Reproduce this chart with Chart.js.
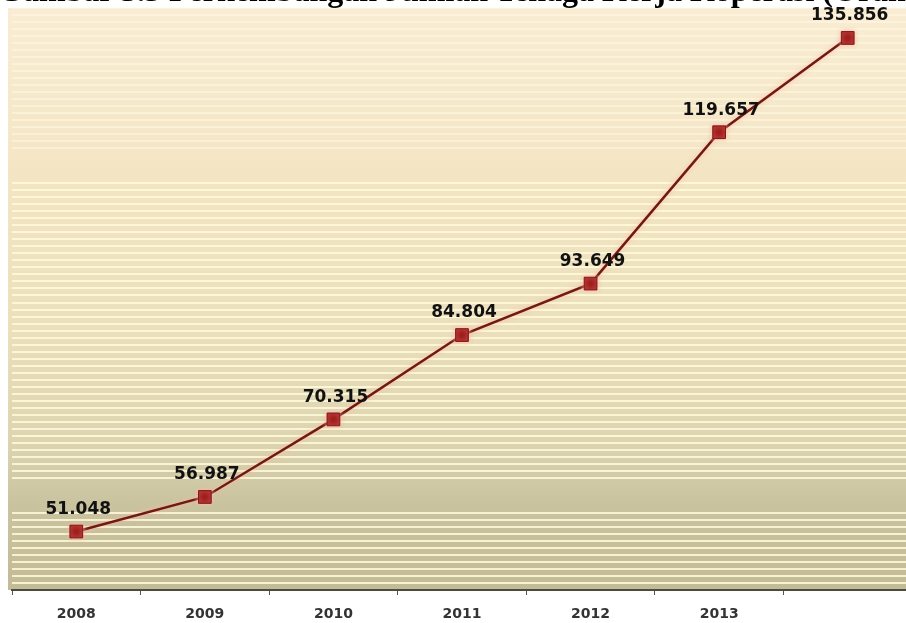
<!DOCTYPE html>
<html>
<head>
<meta charset="utf-8">
<script src="https://cdn.jsdelivr.net/npm/chart.js@4.4.1/dist/chart.umd.min.js"></script>
<style>
  html, body { margin: 0; padding: 0; background: #fff; overflow: hidden; }
  #wrap { position: relative; width: 906px; height: 623px; overflow: hidden; }
  #judul {
    position: absolute; left: -2px; top: -28px; white-space: nowrap;
    font: bold 32px 'Liberation Serif', 'DejaVu Serif', serif; color: #000;
  }
  canvas { position: absolute; left: 0; top: 0; }
</style>
</head>
<body>
<div id="wrap">
  <!-- the plot runs a few pixels past the right edge -->
  <canvas id="myChart" width="912" height="623"></canvas>
  <div id="judul">Gambar 3.5 Perkembangan Jumlah Tenaga Kerja Koperasi (Orang)</div>
</div>
<script>
const tahun = ['2008', '2009', '2010', '2011', '2012', '2013', ''];
const tenagaKerja = [51048, 56987, 70315, 84804, 93649, 119657, 135856];
const yMin = 41000;
const yMax = 141000;
const stripeStep = 1200;

const fmt = v => v.toLocaleString('de-DE');

// gradient background behind the plot
const latar = {
    id: 'latar',
    beforeDraw(chart) {
        const { ctx, chartArea: a } = chart;
        const g = ctx.createLinearGradient(0, a.top, 0, a.bottom);
        g.addColorStop(0, '#f9ecd2');
        g.addColorStop(0.3, '#f3e5c3');
        g.addColorStop(0.55, '#ebdfbc');
        g.addColorStop(0.75, '#dcd4b0');
        g.addColorStop(0.85, '#cac3a0');
        g.addColorStop(1, '#c3bb96');
        ctx.save();
        ctx.fillStyle = g;
        ctx.fillRect(a.left - 4, a.top, a.right - a.left + 4, a.bottom - a.top);
        ctx.restore();
    }
};

// soft glow under the line
const glow = {
    id: 'glow',
    beforeDatasetDraw(chart) {
        const ctx = chart.ctx;
        ctx.save();
        ctx.shadowColor = 'rgba(255, 185, 170, 0.95)';
        ctx.shadowBlur = 5;
    },
    afterDatasetDraw(chart) {
        chart.ctx.restore();
    }
};

// value labels above each point
const labelNilai = {
    id: 'labelNilai',
    afterDatasetsDraw(chart) {
        const ctx = chart.ctx;
        const meta = chart.getDatasetMeta(0);
        ctx.save();
        ctx.font = 'bold 17px "DejaVu Sans", Verdana, sans-serif';
        ctx.fillStyle = '#111';
        ctx.textAlign = 'center';
        ctx.textBaseline = 'middle';
        meta.data.forEach((pt, i) => {
            ctx.fillText(fmt(tenagaKerja[i]), pt.x + 2, pt.y - 22);
        });
        ctx.restore();
    }
};

new Chart(document.getElementById('myChart'), {
    type: 'line',
    data: {
        labels: tahun,
        datasets: [{
            data: tenagaKerja,
            borderColor: '#701a12',
            borderWidth: 2.5,
            tension: 0,
            clip: false,
            pointStyle: 'rect',
            pointRadius: 9,
            pointBackgroundColor: '#9e1a1a',
            pointBorderColor: '#861515',
            pointBorderWidth: 1
        }]
    },
    options: {
        responsive: false,
        animation: false,
        layout: { autoPadding: false, padding: { left: 12, top: 8, right: 0, bottom: 0 } },
        scales: {
            x: {
                offset: true,
                afterFit: s => {
                    s.height = 33;
                    s.paddingLeft = 0;
                    s.paddingRight = 0;
                },
                grid: {
                    offset: true,
                    drawOnChartArea: false,
                    drawTicks: true,
                    tickLength: 5,
                    color: '#555',
                    lineWidth: 1
                },
                border: { display: true, color: '#4d4b40', width: 2 },
                ticks: {
                    padding: 11,
                    color: '#333',
                    font: { family: '"DejaVu Sans", Verdana, sans-serif', size: 14, weight: 'bold' }
                }
            },
            y: {
                min: yMin,
                max: yMax,
                border: { display: false },
                grid: {
                    drawTicks: false,
                    lineWidth: 2,
                    color: c => {
                        const v = c.tick.value;
                        if (v >= 55200 && v <= 59800) return 'rgba(0,0,0,0)';
                        if (v >= 111000 && v <= 116500) return 'rgba(0,0,0,0)';
                        if (v > 116500) return 'rgba(255, 252, 235, 0.45)';
                        return 'rgba(255, 250, 220, 0.85)';
                    }
                },
                ticks: { display: false, stepSize: stripeStep }
            }
        },
        plugins: {
            legend: { display: false },
            tooltip: { enabled: false }
        }
    },
    plugins: [latar, glow, labelNilai]
});
</script>
</body>
</html>
